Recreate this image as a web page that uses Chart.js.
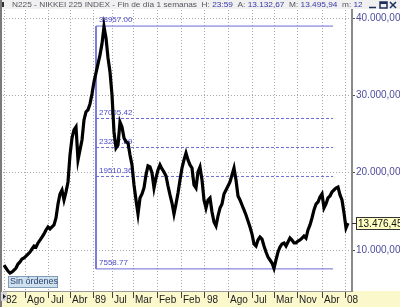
<html>
<head>
    <meta charset="utf-8" />
    <title>N225 - NIKKEI 225 INDEX</title>
    <script src="https://cdn.jsdelivr.net/npm/chart.js"></script>
    <style>body { margin: 0; background: #fff; }</style>
</head>
<body>
<canvas id="chart" width="400" height="307"></canvas>

<script>
    // Nikkei 225, weekly chart 1982 - 2008, read every ~2 px of the original
    const nikkei = [
        8060, 7670, 7280, 7020, 7150, 7410, 7670, 8190, 8450, 8840,
        8970, 9220, 9480, 9740, 10130, 10520, 10390, 10910, 11290, 11680,
        12070, 12590, 12980, 12720, 12980, 13240, 14140, 15950, 17250, 17760,
        16470, 17510, 18800, 22290, 24490, 25530, 25920, 21650, 22940, 24230,
        26820, 27860, 28120, 28890, 30190, 31740, 32900, 34070, 35230, 36660,
        38900, 37430, 34840, 33030, 30060, 25270, 23200, 23590, 26560, 25920,
        24490, 23980, 23850, 22290, 21000, 18410, 16470, 14660, 16730, 17250,
        18020, 19710, 20870, 20740, 19960, 18020, 19320, 20350, 21000, 20480,
        20090, 19580, 18280, 17120, 16080, 14660, 15950, 17380, 19060, 20610,
        21650, 22550, 21650, 21000, 20610, 18410, 18020, 20090, 20740, 19060,
        16470, 15430, 16470, 16730, 14920, 13620, 13110, 14400, 15430, 15950,
        17250, 17760, 18280, 18800, 19710, 20610, 19060, 16990, 16470, 15820,
        15180, 14530, 13750, 12980, 12070, 10780, 10520, 11290, 11680, 11420,
        10520, 9740, 9090, 8710, 8320, 7610, 8710, 9740, 10390, 10780,
        10910, 10520, 11040, 11550, 11290, 10910, 10910, 11160, 11290, 11550,
        11810, 11550, 12590, 13240, 14140, 15180, 15950, 16210, 16860, 17250,
        15430, 15950, 16730, 16990, 17510, 17760, 18020, 18150, 17120, 16470,
        14790, 12850, 13476
    ];

    // date axis: sample index where each label sits
    const dateTicks = [0, 10.5, 22.5, 33, 44.5, 54, 64.5, 76.5, 88.5, 100.5, 112, 124, 135, 146.5, 159, 170.5];
    const dateLabels = ['82', 'Ago', 'Jul', 'Abr', '89', 'Jul', 'Mar', 'Feb', 'Feb', '98', 'Ago', 'Jul', 'Mar', 'Nov', 'Abr', '08'];
    const priceTicks = [10000, 20000, 30000, 40000];

    // fibonacci retracement drawn on the chart
    const fibLevels = [38957.00, 27005.42, 23257.89, 19510.36, 7558.77];
    const fibFrom = 46;
    const fibTo = 164.5;
    const lastPrice = 13476.45;

    const FONT = '"Liberation Sans", Arial, sans-serif';
    const fibColor = '#6b6bd4';

    function fmt(v) {
        const parts = v.toFixed(2).split('.');
        return parts[0].replace(/\B(?=(\d{3})+(?!\d))/g, '.') + ',' + parts[1];
    }

    const datasets = [{
        data: nikkei.map((v, i) => ({x: i, y: v})),
        borderColor: '#000',
        borderWidth: 3.2,
        borderJoinStyle: 'miter',
        pointRadius: 0,
        tension: 0,
    }];
    fibLevels.forEach((lvl, k) => {
        const edge = k === 0 || k === fibLevels.length - 1;
        datasets.push({
            data: [{x: fibFrom, y: lvl}, {x: fibTo, y: lvl}],
            borderColor: fibColor,
            borderWidth: 1,
            borderDash: edge ? [] : [3, 2],
            pointRadius: 0,
        });
    });
    datasets.push({
        data: [{x: fibFrom, y: fibLevels[0]}, {x: fibFrom, y: fibLevels[fibLevels.length - 1]}],
        borderColor: fibColor,
        borderWidth: 1,
        pointRadius: 0,
    });

    const frame = {
        id: 'frame',
        beforeDraw(chart) {
            const {ctx, chartArea: a, width, height} = chart;
            ctx.save();
            ctx.fillStyle = '#fff';
            ctx.fillRect(0, 0, width, height);
            ctx.fillStyle = '#fbf8cc';
            ctx.fillRect(0, a.bottom, width, height - a.bottom);
            ctx.restore();
        },
        beforeDatasetsDraw(chart) {
            const {ctx, scales: {x, y}} = chart;
            ctx.save();
            ctx.font = '8px ' + FONT;
            ctx.fillStyle = '#4b4bcc';
            ctx.textBaseline = 'bottom';
            fibLevels.forEach(lvl => {
                ctx.fillText(lvl.toFixed(2), x.getPixelForValue(fibFrom) + 3, y.getPixelForValue(lvl) - 2);
            });
            ctx.restore();
        },
        afterDraw(chart) {
            const {ctx, chartArea: a, scales: {y}, width, height} = chart;
            ctx.save();

            // title bar
            ctx.fillStyle = '#f0f0f0';
            ctx.fillRect(0, 0, width, 9);
            ctx.fillStyle = '#303030';
            ctx.fillRect(1, 2, 3, 5);
            const parts = [
                ['N225 - NIKKEI 225 INDEX - Fin de día 1 semanas  H: ', '#555560'],
                ['23:59', '#3838a8'], ['  A: ', '#555560'], ['13.132,67', '#3838a8'],
                ['  M: ', '#555560'], ['13.495,94', '#3838a8'], ['  m: ', '#555560'], ['12.85', '#3838a8'],
            ];
            ctx.font = '8px ' + FONT;
            const pre = parts.slice(0, 6).map(p => p[0]).join('');
            const sx = 330 / ctx.measureText(pre + '  ').width;
            ctx.beginPath();
            ctx.rect(0, 0, 362, 10);
            ctx.clip();
            ctx.translate(12, 0);
            ctx.scale(sx, 1);
            ctx.textBaseline = 'middle';
            let tx = 0;
            parts.forEach(p => {
                ctx.fillStyle = p[1];
                ctx.fillText(p[0], tx, 5);
                tx += ctx.measureText(p[0]).width;
            });
            ctx.restore();

            // window buttons
            ctx.save();
            ctx.strokeStyle = '#1f2f5f';
            ctx.lineWidth = 1.5;
            ctx.beginPath();
            ctx.moveTo(369, 7.5); ctx.lineTo(376, 7.5);
            ctx.strokeRect(380, 2, 7, 6);
            ctx.moveTo(390, 2); ctx.lineTo(396, 8);
            ctx.moveTo(396, 2); ctx.lineTo(390, 8);
            ctx.stroke();
            ctx.fillStyle = '#1f2f5f';
            ctx.fillRect(380, 2, 7, 2);

            // left edge and scroll arrow
            ctx.fillStyle = '#7a7a7a';
            ctx.fillRect(0, 0, 2, height);
            ctx.fillStyle = '#d8d8d8';
            ctx.fillRect(1, a.bottom + 1, 6, 9);
            ctx.fillStyle = '#222';
            ctx.beginPath();
            ctx.moveTo(3, a.bottom + 3); ctx.lineTo(6, a.bottom + 5.5); ctx.lineTo(3, a.bottom + 8);
            ctx.fill();

            // last price tag
            const py = Math.round(y.getPixelForValue(lastPrice)) + 0.5;
            ctx.fillStyle = '#ffffc4';
            ctx.fillRect(356, py - 6, 46, 12);
            ctx.strokeStyle = '#333';
            ctx.lineWidth = 1;
            ctx.strokeRect(356.5, py - 6, 46, 12);
            ctx.beginPath();
            ctx.moveTo(a.right, py); ctx.lineTo(356, py);
            ctx.stroke();
            ctx.fillStyle = '#111';
            ctx.font = '10px ' + FONT;
            ctx.textBaseline = 'middle';
            ctx.fillText(fmt(lastPrice), 358, py + 0.5);

            // orders box
            ctx.fillStyle = '#cfe0ee';
            ctx.fillRect(8, 276, 49, 11);
            ctx.strokeStyle = '#7f9cb8';
            ctx.strokeRect(8.5, 276.5, 49, 11);
            ctx.fillStyle = '#2b4470';
            ctx.font = '9px ' + FONT;
            ctx.fillText('Sin órdenes', 10, 282);
            ctx.restore();
        }
    };

    new Chart(document.getElementById('chart'), {
        type: 'line',
        data: {datasets: datasets},
        options: {
            responsive: false,
            animation: false,
            events: [],
            layout: {padding: {left: 3, top: 10, right: 0, bottom: 0}},
            plugins: {legend: {display: false}, tooltip: {enabled: false}},
            scales: {
                x: {
                    type: 'linear',
                    position: 'bottom',
                    min: -0.5,
                    max: 174,
                    afterBuildTicks: s => { s.ticks = dateTicks.map(v => ({value: v})); },
                    afterFit: s => { s.height = 16; },
                    grid: {color: '#a8a8a8', tickColor: '#404040', tickLength: 7, tickBorderDash: []},
                    border: {color: '#9a9a9a', width: 1, dash: [1, 2]},
                    ticks: {
                        callback: (v, i) => dateLabels[i],
                        autoSkip: false,
                        maxRotation: 0,
                        align: 'start',
                        labelOffset: 2,
                        padding: -4,
                        color: '#222',
                        font: {family: FONT, size: 10},
                    },
                },
                y: {
                    position: 'right',
                    min: 4700,
                    max: 41035,
                    afterBuildTicks: s => { s.ticks = priceTicks.map(v => ({value: v})); },
                    afterFit: s => { s.width = 48; },
                    grid: {color: '#a8a8a8', tickColor: '#505050', tickLength: 3, tickBorderDash: []},
                    border: {color: '#8a8a8a', width: 2, dash: [1, 2]},
                    ticks: {
                        callback: v => fmt(v),
                        padding: 1,
                        color: '#4d4d9c',
                        font: {family: FONT, size: 10},
                    },
                }
            }
        },
        plugins: [frame]
    });
</script>
</body>
</html>
